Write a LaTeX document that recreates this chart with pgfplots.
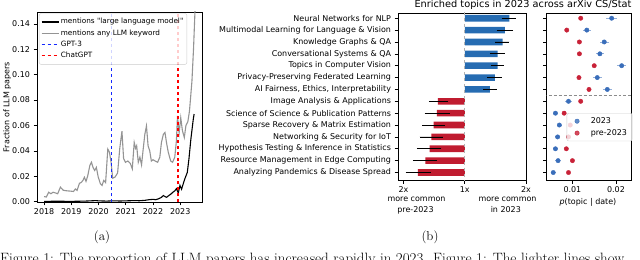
\documentclass[border=0pt]{standalone}
\usepackage{fontspec}
\usepackage{pgfplots}
\usepackage{pgfplotstable}
\pgfplotsset{compat=1.18}
\newfontfamily\dvs{DejaVu Sans}
\definecolor{barblue}{RGB}{38,108,178}
\definecolor{barred}{RGB}{192,28,48}
\definecolor{dotblue}{RGB}{58,110,186}
\definecolor{dotred}{RGB}{200,34,56}
\definecolor{gptblue}{RGB}{20,40,255}
\newcommand{\tf}{\dvs\fontsize{8}{9.6}\selectfont}
\newcommand{\lf}{\dvs\fontsize{7.3}{8.8}\selectfont}

\pgfplotstableread{
x y
2018.00 0.0040
2018.08 0.0036
2018.17 0.0074
2018.25 0.0062
2018.33 0.0074
2018.42 0.0068
2018.50 0.0062
2018.60 0.0114
2018.70 0.0090
2018.80 0.0086
2018.90 0.0084
2019.00 0.0082
2019.08 0.0080
2019.15 0.0100
2019.21 0.0088
2019.30 0.0145
2019.36 0.0150
2019.43 0.0168
2019.48 0.0192
2019.54 0.0160
2019.60 0.0200
2019.68 0.0284
2019.74 0.0310
2019.80 0.0268
2019.86 0.0245
2019.92 0.0270
2019.99 0.0192
2020.07 0.0140
2020.13 0.0127
2020.19 0.0167
2020.26 0.0150
2020.34 0.0414
2020.40 0.0390
2020.46 0.0310
2020.52 0.0185
2020.60 0.0192
2020.70 0.0225
2020.78 0.0420
2020.86 0.0555
2020.92 0.0340
2020.99 0.0310
2021.08 0.0320
2021.17 0.0300
2021.24 0.0258
2021.31 0.0466
2021.36 0.0420
2021.40 0.0440
2021.46 0.0310
2021.52 0.0350
2021.58 0.0290
2021.64 0.0414
2021.70 0.0530
2021.76 0.0596
2021.82 0.0440
2021.88 0.0400
2021.94 0.0320
2022.00 0.0330
2022.08 0.0320
2022.17 0.0310
2022.25 0.0350
2022.31 0.0466
2022.38 0.0530
2022.44 0.0545
2022.50 0.0460
2022.56 0.0390
2022.65 0.0320
2022.72 0.0310
2022.80 0.0350
2022.86 0.0480
2022.90 0.0675
2022.96 0.0540
2023.02 0.0660
2023.08 0.0560
2023.15 0.0505
2023.21 0.0600
2023.28 0.0630
2023.34 0.0713
2023.43 0.0948
2023.49 0.1210
2023.56 0.1600
}\grayline

\pgfplotstableread{
x y
2018.00 0.0002
2018.50 0.0003
2019.00 0.0002
2019.50 0.0004
2019.90 0.0008
2020.00 0.0006
2020.30 0.0004
2020.50 0.0006
2020.80 0.0005
2021.00 0.0006
2021.30 0.0008
2021.50 0.0007
2021.70 0.0010
2021.85 0.0015
2022.00 0.0018
2022.10 0.0015
2022.20 0.0022
2022.30 0.0032
2022.38 0.0048
2022.44 0.0040
2022.50 0.0034
2022.58 0.0048
2022.65 0.0058
2022.72 0.0072
2022.80 0.0085
2022.86 0.0102
2022.93 0.0068
2022.99 0.0128
2023.05 0.0098
2023.11 0.0140
2023.17 0.0180
2023.26 0.0230
2023.32 0.0336
2023.39 0.0490
2023.48 0.0650
2023.51 0.0690
}\blackline

\pgfplotstableread{
row v ep em
1 0.727 0.109 0.127
2 0.656 0.134 0.136
3 0.617 0.110 0.127
4 0.536 0.120 0.126
5 0.536 0.103 0.110
6 0.492 0.108 0.126
7 0.410 0.110 0.110
}\bluebars

\pgfplotstableread{
row v ep em
8 -0.437 0.164 0.148
9 -0.454 0.208 0.202
10 -0.508 0.180 0.186
11 -0.546 0.191 0.192
12 -0.574 0.194 0.206
13 -0.645 0.191 0.202
14 -0.765 0.208 0.202
}\redbars

\pgfplotstableread{
row b be r
1 0.0190 0.0012 0.0119
2 0.0133 0.0009 0.0087
3 0.0173 0.0010 0.0116
4 0.0163 0.0010 0.0116
5 0.0213 0.0011 0.0150
6 0.0157 0.0010 0.0115
7 0.0180 0.0011 0.0138
8 0.0091 0.0007 0.0119
9 0.0061 0.0006 0.0081
10 0.0070 0.0006 0.0095
11 0.0066 0.0006 0.0091
12 0.0061 0.0006 0.0086
13 0.0067 0.0006 0.0100
14 0.0056 0.0006 0.0091
}\dotdata

\begin{document}
\begin{tikzpicture}
\useasboundingbox (0,0) rectangle (640bp,260bp);
\pgfplotsset{
  myax/.style={scale only axis, anchor=south west, font=\tf,
    tick label style={font=\tf},
    /pgf/number format/assume math mode=true,
    tick align=outside, tick pos=left, major tick length=3.5bp,
    axis line style={black, line width=0.6bp},
    every tick/.style={black, line width=0.6bp}},
}

% ---------- panel (a)
\begin{axis}[myax, at={(37bp,58bp)}, width=165bp, height=190bp,
  xmin=2017.74, xmax=2023.8, ymin=-0.0003, ymax=0.1494,
  xtick={2018,2019,2020,2021,2022,2023},
  xticklabels={2018,2019,2020,2021,2022,2023},
  ytick={0,0.02,0.04,0.06,0.08,0.1,0.12,0.14},
  yticklabels={0.00,0.02,0.04,0.06,0.08,0.10,0.12,0.14},
  ylabel={Fraction of LLM papers},
  every axis y label/.style={at={(axis description cs:-0.18,0.5)}, rotate=90, anchor=center, font=\tf},
  legend style={at={(axis description cs:0.012,0.993)}, anchor=north west,
    draw=black!20, rounded corners=2bp, fill=white, fill opacity=0.8,
    text opacity=1, font=\lf, inner xsep=2bp, inner ysep=3bp, row sep=0.3bp,
    nodes={inner sep=1.6bp, text height=5.8bp, text depth=2bp}},
  legend cell align=left,
]
\addlegendimage{black, line width=1.1bp}
\addlegendentry{mentions "large language model"}
\addlegendimage{black!42, line width=1.1bp}
\addlegendentry{mentions any LLM keyword}
\addlegendimage{gptblue, dashed, line width=1.1bp}
\addlegendentry{GPT-3}
\addlegendimage{red, dashed, line width=1.1bp}
\addlegendentry{ChatGPT}
\addplot[black!42, line width=1.1bp, forget plot] table[x=x,y=y]{\grayline};
\addplot[black, line width=1.1bp, forget plot] table[x=x,y=y]{\blackline};
\addplot[gptblue, dashed, line width=1.1bp, forget plot] coordinates {(2020.46,-0.01) (2020.46,0.2)};
\addplot[red, dashed, line width=1.1bp, forget plot] coordinates {(2022.92,-0.01) (2022.92,0.2)};
\end{axis}

% ---------- panel (b) bars
\begin{axis}[myax, at={(398bp,80bp)}, width=128bp, height=167bp,
  xmin=-1.09, xmax=1.0, ymin=0.56, ymax=14.63, y dir=reverse,
  ytick={1,2,3,4,5,6,7,8,9,10,11,12,13,14},
  yticklabels={Neural Networks for NLP,
    Multimodal Learning for Language \& Vision,
    Knowledge Graphs \& QA,
    Conversational Systems \& QA,
    Topics in Computer Vision,
    Privacy-Preserving Federated Learning,
    {AI Fairness, Ethics, Interpretability},
    Image Analysis \& Applications,
    Science of Science \& Publication Patterns,
    Sparse Recovery \& Matrix Estimation,
    Networking \& Security for IoT,
    Hypothesis Testing \& Inference in Statistics,
    Resource Management in Edge Computing,
    Analyzing Pandemics \& Disease Spread},
  xtick={-1,0,1}, xticklabels={2x,1x,2x},
]
\addplot[xbar, bar width=6.6bp, bar shift=0pt, fill=barblue, draw=none,
  error bars/.cd, x dir=both, x explicit, error mark=none,
  error bar style={black, line width=0.8bp}]
  table[x=v, y=row, x error plus=ep, x error minus=em]{\bluebars};
\addplot[xbar, bar width=6.6bp, bar shift=0pt, fill=barred, draw=none,
  error bars/.cd, x dir=both, x explicit, error mark=none,
  error bar style={black, line width=0.8bp}]
  table[x=v, y=row, x error plus=ep, x error minus=em]{\redbars};
\addplot[black!30, dashed, line width=0.8bp] coordinates {(0,0) (0,15)};
\end{axis}

% ---------- panel (b) dots
\begin{axis}[myax, at={(546.7bp,80bp)}, width=85bp, height=167bp,
  xmin=0.0041, xmax=0.0236, ymin=0.56, ymax=14.63, y dir=reverse,
  scaled x ticks=false,
  ytick={1,2,3,4,5,6,7,8,9,10,11,12,13,14}, yticklabels={},
  xtick={0.01,0.02}, xticklabels={0.01,0.02},
  xlabel={{\itshape p}(topic | date)},
  every axis x label/.style={at={(axis description cs:0.486,-0.132)}, anchor=center, font=\tf},
  legend style={at={(axis description cs:0.235,0.401)}, anchor=north west,
    draw=black!20, rounded corners=2bp, fill=white, fill opacity=0.8,
    text opacity=1, font=\tf, inner xsep=3bp, inner ysep=2bp, row sep=0bp,
    nodes={inner sep=2.2bp, text height=6bp, text depth=1.5bp}},
  legend cell align=left,
  legend image code/.code={\node[draw=none, fill=none, inner sep=0pt,
      minimum width=18.7bp, minimum height=1bp, anchor=west] at (0bp,0bp) {};
    \draw[#1, only marks, mark repeat=1] plot coordinates {(7.4bp,0bp)};},
]
\addplot[black!45, densely dashed, line width=0.6bp, forget plot] coordinates {(0,7.5) (0.03,7.5)};
\addplot[only marks, mark=*, mark size=2.2bp, color=dotblue,
  error bars/.cd, x dir=both, x explicit, error mark=none,
  error bar style={dotblue!55, line width=0.9bp}]
  table[x=b, y=row, x error=be]{\dotdata};
\addlegendentry{2023}
\addplot[only marks, mark=*, mark size=2.2bp, color=dotred]
  table[x=r, y=row]{\dotdata};
\addlegendentry{pre-2023}
\end{axis}

% ---------- texts
\node[font=\dvs\fontsize{9.8}{11}\selectfont, anchor=base] at (523bp,252.3bp) {Enriched topics in 2023 across arXiv CS/Stat};
\node[font=\tf, anchor=base] at (416.5bp,58bp) {more common};
\node[font=\tf, anchor=base] at (415.5bp,47.5bp) {pre-2023};
\node[font=\tf, anchor=base] at (507.5bp,58bp) {more common};
\node[font=\tf, anchor=base] at (505.8bp,47.5bp) {in 2023};
\node[font=\fontsize{13}{15}\selectfont, anchor=base] at (102bp,19.7bp) {(a)};
\node[font=\fontsize{13}{15}\selectfont, anchor=base] at (430bp,19.7bp) {(b)};
\node[anchor=base west, inner sep=0pt, font=\fontsize{15}{18}\selectfont] at (0bp,-3.5bp) {Figure 1: The proportion of LLM papers has increased rapidly in 2023. Figure 1: The lighter lines show};
\end{tikzpicture}
\end{document}
